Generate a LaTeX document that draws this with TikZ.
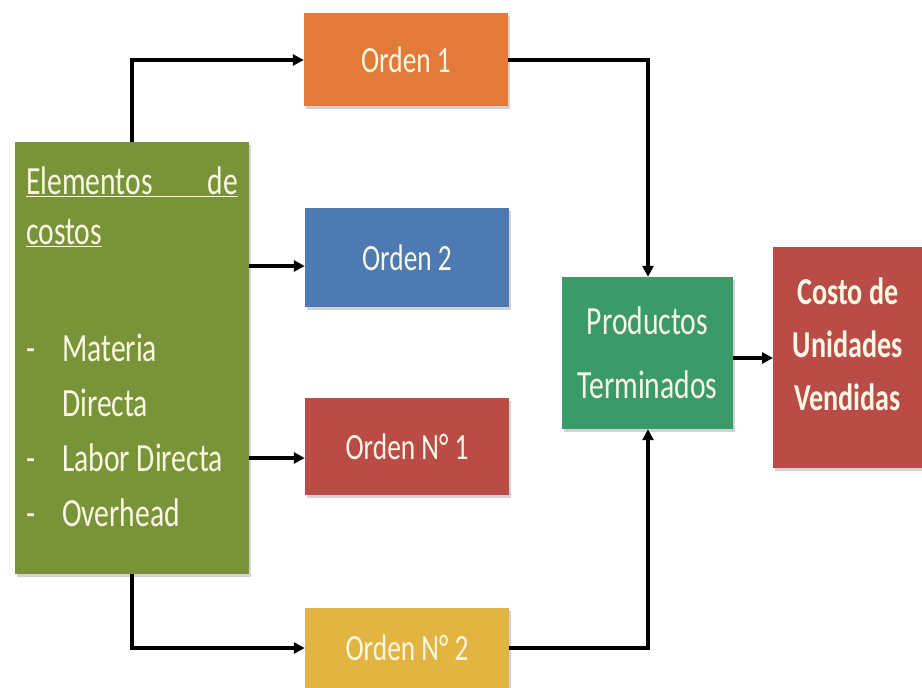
\documentclass[tikz,border=0pt]{standalone}
\usepackage{fontspec}
\setmainfont{Carlito}[FakeStretch=0.74]
\usetikzlibrary{arrows.meta,shadows}

\definecolor{elemgreen}{RGB}{121,148,56}
\definecolor{ordorange}{RGB}{226,122,58}
\definecolor{ordblue}{RGB}{77,122,178}
\definecolor{ordred}{RGB}{186,76,72}
\definecolor{ordgold}{RGB}{226,181,66}
\definecolor{prodgreen}{RGB}{58,154,106}
\definecolor{txtcream}{RGB}{250,248,228}

\tikzset{
  box/.style={rectangle, inner sep=0pt, text=txtcream, align=center,
    drop shadow={opacity=0.35, shadow xshift=1.5pt, shadow yshift=-2.5pt}},
  orden/.style={box, minimum width=204pt, font=\fontsize{37}{40}\selectfont},
  link/.style={line width=3.2pt, -{Triangle[length=11pt,width=11pt]}}
}

\begin{document}
\begin{tikzpicture}[x=1pt,y=-1pt]
  \useasboundingbox (0,0) rectangle (922,688);

  % cost elements
  \node[box, fill=elemgreen, minimum width=234pt, anchor=north west,
        font=\fontsize{40}{55}\selectfont] (elem) at (15,142)
    {\parbox[t][432pt][t]{212pt}{\raggedright\vspace*{25pt}%
     \underline{\makebox[212pt][l]{Elementos\hfill de}}\\[-5pt]
     \underline{costos}\\[62pt]
     \makebox[36pt][l]{-}Materia\\
     \hspace*{36pt}Directa\\
     \makebox[36pt][l]{-}Labor Directa\\
     \makebox[36pt][l]{-}Overhead}};

  % orders
  \node[orden, fill=ordorange, minimum height=93pt] (o1) at (406,59.5) {Orden 1};
  \node[orden, fill=ordblue, minimum height=99pt] (o2) at (407,257.5) {Orden 2};
  \node[orden, fill=ordred, minimum height=97pt] (o3) at (407,446.5) {Orden N° 1};
  \node[orden, fill=ordgold, minimum height=80pt] (o4) at (407,648) {Orden N° 2};

  \node[box, fill=prodgreen, minimum width=171pt, minimum height=152pt,
        font=\fontsize{40}{64}\selectfont] (prod) at (647.5,353)
    {Productos\\Terminados};
  \node[box, fill=ordred, minimum width=149pt, anchor=north west,
        font=\bfseries\fontsize{38}{53}\selectfont] (costo) at (773,247)
    {\parbox[t][221pt][t]{149pt}{\centering\vspace*{31pt}%
     Costo de\\Unidades\\Vendidas}};

  \draw[link] (elem.north -| 132,0) |- (o1.west |- 0,60);
  \draw[link] (elem.east |- 0,266) -- (o2.west |- 0,266);
  \draw[link] (elem.east |- 0,458) -- (o3.west |- 0,458);
  \draw[link] (elem.south -| 132,0) |- (o4.west);
  \draw[link] (o1.east |- 0,60) -| (prod.north -| 648,0);
  \draw[link] (o4.east) -| (prod.south -| 648,0);
  \draw[link, line width=4.6pt] (prod.east |- 0,358) -- (costo.west |- 0,358);
\end{tikzpicture}
\end{document}
